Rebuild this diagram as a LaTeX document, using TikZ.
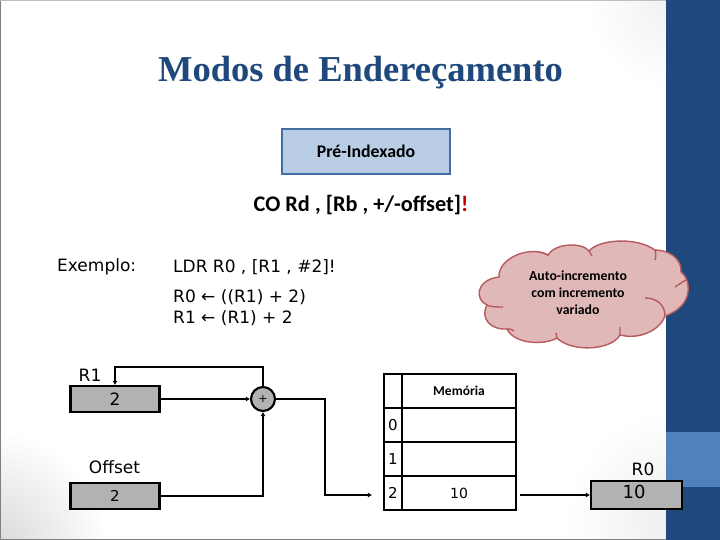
\documentclass[tikz,border=0pt]{standalone}
\usepackage{fontspec}
\setmainfont{DejaVu Sans}
\newfontfamily\titlefont{Liberation Serif}
\newfontfamily\boxfont{Carlito}
\usetikzlibrary{calc,arrows.meta}
\definecolor{panelblue}{HTML}{1F497D}
\definecolor{paneltile}{HTML}{4F81BD}
\definecolor{cloudfill}{HTML}{E0B8B7}
\definecolor{cloudline}{HTML}{B65A60}
\definecolor{regfill}{HTML}{B2B2B2}
\tikzset{
	regbox/.style={draw=black, fill=regfill, line width=2.1pt, minimum width=89pt, minimum height=26pt, inner sep=0pt, font=\fontsize{17}{17}\selectfont},
	regname/.style={inner sep=0pt, font=\fontsize{17}{17}\selectfont},
	idxcell/.style={draw=black, line width=2.1pt, minimum width=18pt, minimum height=34pt, inner sep=0pt, font=\fontsize{15}{15}\selectfont},
	memcell/.style={draw=black, line width=2.1pt, minimum width=114pt, minimum height=34pt, inner sep=0pt, font=\fontsize{14}{14}\selectfont},
	wirearrow/.style={line width=2.1pt, -{Latex[length=4pt,width=5pt]}},
	bodytext/.style={anchor=west, inner sep=0pt, font=\fontsize{17}{17}\selectfont},
	cloudtext/.style={inner sep=0pt, align=center, font=\boxfont\bfseries\fontsize{13.8}{17}\selectfont}
}
\begin{document}
\begin{tikzpicture}[x=1pt, y=-1pt]
	%%%%% BACKGROUND %%%%%
	\useasboundingbox (0, 0) rectangle (720, 540);
	\fill[white] (0, 0) rectangle (720, 540);
	\begin{scope}
		\clip (0, 0) rectangle (666, 540);
		\shade[inner color=black!16, outer color=white] (-10, 550) circle (120);
		\shade[inner color=black!7, outer color=white] (676, 520) circle (110);
		\shade[inner color=black!6, outer color=white] (676, 0) circle (90);
	\end{scope}
	\draw[black!50, line width=1pt] (0.5, 0) -- (0.5, 539) -- (666, 539);
	\draw[black!25, line width=0.5pt] (0, 0.3) -- (666, 0.3);
	\fill[panelblue] (666, 0) rectangle (720, 540);
	\fill[paneltile] (666, 432) rectangle (720, 487);

	%%%%% HEADER %%%%%
	\node[inner sep=0pt, text=panelblue, font=\titlefont\bfseries\fontsize{36.5}{36.5}\selectfont] (title) at (360.5, 73) {Modos de Endereçamento};
	\node[draw=paneltile!85!black, fill=paneltile!40!white, line width=1.5pt, minimum width=168pt, minimum height=45pt, inner sep=0pt, font=\boxfont\bfseries\fontsize{17.8}{17.8}\selectfont] (mode) at (366, 151.5) {Pré-Indexado};
	\node[inner sep=0pt, font=\boxfont\bfseries\fontsize{22.3}{22.3}\selectfont] (syntax) at (361, 205) {CO Rd , [Rb , +/-offset]\textcolor{red!75!black}{!}};

	%%%%% TEXT %%%%%
	\node[bodytext] (example) at (57, 267) {Exemplo:};
	\node[bodytext] (instr) at (173, 267) {LDR R0 , [R1 , \#2]!};
	\node[bodytext] (stepa) at (173, 297) {R0 ← ((R1) + 2)};
	\node[bodytext] (stepb) at (173, 318) {R1 ← (R1) + 2};

	%%%%% CLOUD %%%%%
	\draw[fill=cloudfill, draw=cloudline, line width=1.4pt] (499, 277)
		.. controls (498, 258) and (530, 245) .. (548, 255)
		.. controls (555, 243) and (582, 242) .. (589, 251)
		.. controls (598, 240) and (635, 236) .. (655, 250)
		.. controls (668, 250) and (682, 258) .. (681, 272)
		.. controls (690, 278) and (696, 305) .. (665, 316)
		.. controls (660, 330) and (640, 340) .. (620, 335)
		.. controls (612, 350) and (572, 353) .. (557, 338)
		.. controls (545, 345) and (515, 345) .. (507, 329)
		.. controls (490, 330) and (480, 318) .. (487, 305)
		.. controls (475, 300) and (475, 280) .. (499, 277) -- cycle;
	\draw[cloudline, line width=1.4pt]
		(548, 255) .. controls (544, 253) and (541, 252) .. (538, 252)
		(589, 251) .. controls (590, 253) and (591, 254) .. (592, 256)
		(655, 250) .. controls (656, 253) and (656, 257) .. (655, 260)
		(686, 280) .. controls (682, 282) and (678, 285) .. (675, 287)
		(665, 316) .. controls (665, 305) and (657, 298) .. (645, 298)
		(620, 335) .. controls (620, 333) and (620, 330) .. (620, 327)
		(557, 338) .. controls (557, 336) and (556, 335) .. (556, 333)
		(507, 329) .. controls (510, 329) and (512, 329) .. (514, 331)
		(487, 305) .. controls (490, 307) and (498, 307) .. (503, 307);
	\node[cloudtext] (note) at (578, 293) {Auto-incremento\\com incremento\\variado};

	%%%%% REGISTERS %%%%%
	\node[regbox] (rone) at (115, 399) {2};
	\node[regname] (ronename) at (90, 375.5) {R1};
	\node[regbox, font=\fontsize{15}{15}\selectfont] (offs) at (115, 496) {2};
	\node[regname] (offsname) at (114.5, 467) {Offset};
	\node[draw=black, fill=regfill, circle, line width=2.1pt, minimum size=24pt, inner sep=0pt, font=\fontsize{11}{11}\selectfont] (plus) at (263, 399) {+};
	\node[regbox, minimum width=91pt, minimum height=28pt] (rzero) at (636.5, 495) {};
	\node[inner sep=0pt, font=\fontsize{18}{18}\selectfont] (rzeroval) at (634, 492) {10};
	\node[regname] (rzeroname) at (643, 469) {R0};

	%%%%% MEMORY %%%%%
	\node[idxcell] (idxh) at (393, 391) {};
	\node[idxcell] (idxa) at (393, 425) {0};
	\node[idxcell] (idxb) at (393, 459) {1};
	\node[idxcell] (idxc) at (393, 493) {2};
	\node[memcell, font=\boxfont\bfseries\fontsize{13.5}{13.5}\selectfont] (memh) at (459, 391) {Memória};
	\node[memcell] (mema) at (459, 425) {};
	\node[memcell] (memb) at (459, 459) {};
	\node[memcell] (memc) at (459, 493) {10};

	%%%%% WIRES %%%%%
	\draw[wirearrow] (rone) -- (plus);
	\draw[wirearrow] (plus.north) |- (115, 367) -- (rone.north);
	\draw[wirearrow] (offs.east) -| (plus.south);
	\draw[wirearrow, shorten >=11pt] (plus.east) -- (324.6, 399) -- (324.6, 495) -- (idxc.west |- 0, 495);
	\draw[wirearrow, shorten <=3pt] (memc.east |- 0, 495) -- (rzero.west |- 0, 495);

	%%%%% END %%%%%
\end{tikzpicture}
\end{document}
